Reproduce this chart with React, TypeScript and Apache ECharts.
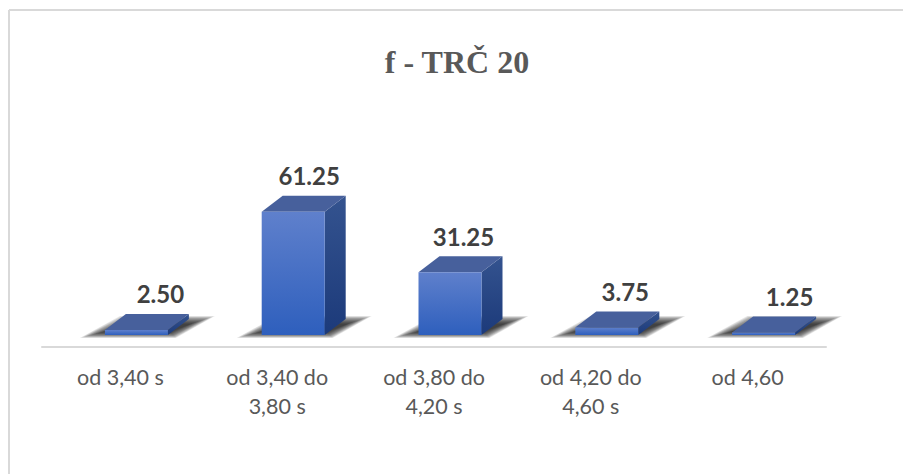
import React, { useEffect, useRef } from "react";
import * as echarts from "echarts";

const categories = ["od 3,40 s", "od 3,40 do\n3,80 s", "od 3,80 do\n4,20 s", "od 4,20 do\n4,60 s", "od 4,60"];
const values = [2.5, 61.25, 31.25, 3.75, 1.25];
const titleText = "f - TRČ 20";

const labelShift = [24, 16, 13.5, 18.5, 26];
const HALF = 31.5, SHIFT = 16, DX = 21, DY = 16, SHADOW_LAYERS = 16;

function renderItem(params: any, api: any) {
  const v = api.value(1);
  const [cx, yTop] = api.coord([api.value(0), v]);
  const [, yBase] = api.coord([api.value(0), 0]);
  const l = cx + SHIFT - HALF, r = cx + SHIFT + HALF;
  const poly = (pts: number[][], fill: any) => ({ type: "polygon", shape: { points: pts }, style: { fill } });
  const grad = (a: string, b: string) => new echarts.graphic.LinearGradient(0, 0, 0, 1, [{ offset: 0, color: a }, { offset: 1, color: b }]);
  const shadow: any[] = [];
  for (let k = 0; k < SHADOW_LAYERS; k++) {
    const t = k / (SHADOW_LAYERS - 1);
    shadow.push(poly([
      [l - 2 - 23 * t, yBase - 3 + 6 * t],
      [r + 2 + 6 * t, yBase - 3 + 6 * t],
      [r + DX + 2 + 24 * t, yBase - DY + 5 - 8 * t],
      [l + DX + 6 - 12 * t, yBase - DY + 5 - 8 * t],
    ], "rgba(25,25,25,0.095)"));
  }
  return {
    type: "group",
    children: [
      ...shadow,
      poly([[r, yTop], [r + DX, yTop - DY], [r + DX, yBase - DY], [r, yBase]], grad("#34538f", "#1c3a7a")),
      poly([[l, yTop], [l + DX, yTop - DY], [r + DX, yTop - DY], [r, yTop]], "#47609c"),
      poly([[l, yTop], [r, yTop], [r, yBase], [l, yBase]], grad("#5f80cc", "#2e5fbd")),
      {
        type: "text",
        style: {
          text: v.toFixed(2), x: cx + SHIFT + labelShift[params.dataIndex], y: yTop - DY - 8,
          align: "center", verticalAlign: "bottom",
          font: "bold 24px Lato", fill: "#404040",
        },
      },
    ],
  };
}

export default function App() {
  const ref = useRef<HTMLDivElement>(null);
  useEffect(() => {
    const chart = echarts.init(ref.current!, null, { renderer: "svg" });
    chart.setOption({
      animation: false,
      backgroundColor: "#ffffff",
      title: {
        text: titleText, left: 452, top: 41, textAlign: "center",
        textStyle: { fontFamily: "Liberation Serif", fontWeight: "bold", fontSize: 32, color: "#595959" },
      },
      graphic: [
        { type: "line", shape: { x1: 9, y1: 10, x2: 903, y2: 10 }, style: { stroke: "#d9d9d9", lineWidth: 2 } },
        { type: "line", shape: { x1: 9, y1: 10, x2: 9, y2: 474 }, style: { stroke: "#d9d9d9", lineWidth: 2 } },
      ],
      grid: { left: 42, width: 784, top: 134, height: 213 },
      xAxis: {
        type: "category", data: categories,
        axisLine: { onZero: false, lineStyle: { color: "#d9d9d9", width: 2 } },
        axisTick: { show: false },
        axisLabel: { fontFamily: "Lato", fontSize: 21.5, color: "#595959", lineHeight: 29, margin: 15 },
      },
      yAxis: { type: "value", min: -6, max: 100, show: false, splitLine: { show: false } },
      series: [{
        type: "custom", renderItem, clip: false,
        encode: { x: 0, y: 1 },
        data: values.map((v, i) => [i, v]),
      }],
    });
    return () => chart.dispose();
  }, []);
  return <div ref={ref} style={{ position: "absolute", left: 0, top: 0, width: 903, height: 474 }} />;
}
